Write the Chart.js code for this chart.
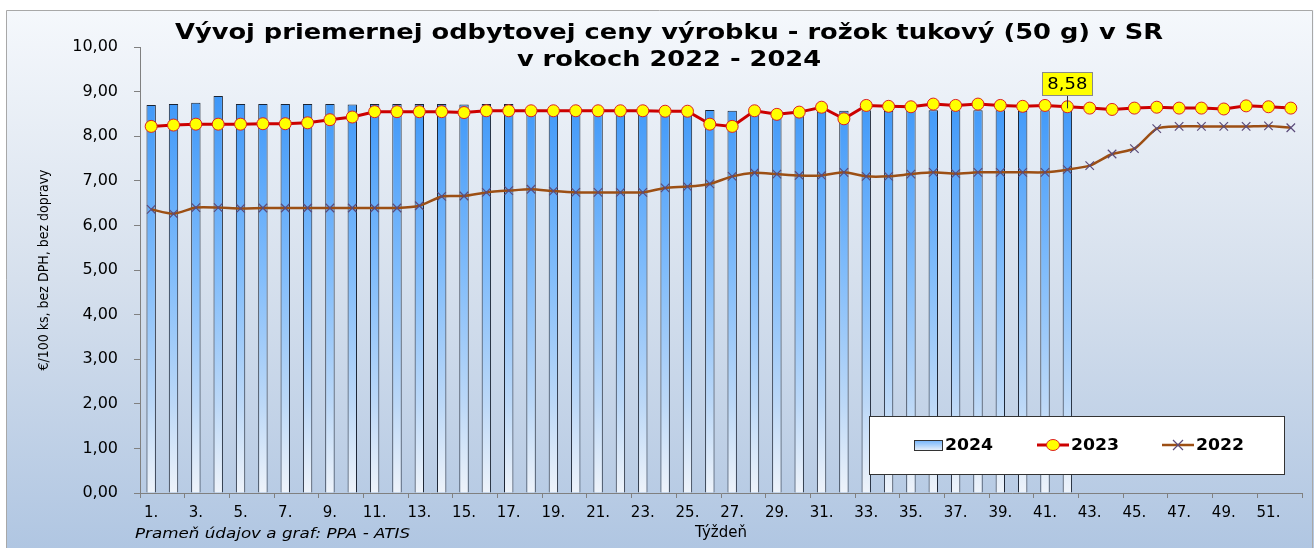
<!DOCTYPE html>
<html>
<head>
<meta charset="utf-8">
<script src="https://cdn.jsdelivr.net/npm/chart.js@4/dist/chart.umd.min.js"></script>
<style>
  html, body { margin: 0; padding: 0; background: #fff; }
  #wrap { width: 1314px; height: 548px; }
</style>
</head>
<body>
<div id="wrap"><canvas id="cenyChart" width="1314" height="548"></canvas></div>
<script>
// Tyzdne 1. - 52.
const weeks = [];
for (let i = 1; i <= 52; i++) weeks.push(i + '.');

// 2024 (do 42. tyzdna)
const data2024 = [8.70, 8.72, 8.75, 8.90, 8.72, 8.72, 8.72, 8.72, 8.72, 8.71,
  8.72, 8.72, 8.72, 8.72, 8.71, 8.72, 8.72, 8.60, 8.58, 8.58,
  8.58, 8.58, 8.58, 8.58, 8.58, 8.59, 8.57, 8.57, 8.55, 8.54,
  8.56, 8.57, 8.58, 8.57, 8.57, 8.58, 8.58, 8.58, 8.58, 8.57,
  8.58, 8.58];

const data2023 = [8.22, 8.25, 8.27, 8.27, 8.27, 8.28, 8.28, 8.30, 8.37, 8.43,
  8.55, 8.55, 8.55, 8.55, 8.53, 8.57, 8.57, 8.57, 8.57, 8.57,
  8.57, 8.57, 8.57, 8.56, 8.56, 8.27, 8.22, 8.57, 8.49, 8.54,
  8.65, 8.39, 8.69, 8.67, 8.66, 8.72, 8.69, 8.72, 8.69, 8.67,
  8.69, 8.66, 8.63, 8.60, 8.63, 8.65, 8.63, 8.63, 8.61, 8.68,
  8.66, 8.63];

const data2022 = [6.36, 6.26, 6.40, 6.40, 6.38, 6.39, 6.39, 6.39, 6.39, 6.39,
  6.39, 6.39, 6.44, 6.65, 6.66, 6.74, 6.78, 6.81, 6.77, 6.74,
  6.74, 6.74, 6.74, 6.84, 6.87, 6.93, 7.10, 7.18, 7.15, 7.12,
  7.12, 7.19, 7.10, 7.10, 7.15, 7.19, 7.16, 7.19, 7.19, 7.19,
  7.19, 7.25, 7.34, 7.60, 7.72, 8.17, 8.22, 8.22, 8.22, 8.22,
  8.23, 8.19];

const yTicks = [0, 1, 2, 3, 4, 5, 6, 7, 8, 9, 10];
const labelWeekIdx = 41; // popis 8,58

const fmt = v => v.toFixed(2).replace('.', ',');
const FONT = "'DejaVu Sans', Verdana, sans-serif";

function barGradient(ctx, area) {
  const g = ctx.createLinearGradient(0, area.top, 0, area.bottom);
  g.addColorStop(0, '#2b8df8');
  g.addColorStop(0.5, '#80bcfb');
  g.addColorStop(0.8, '#bcd8f7');
  g.addColorStop(1, '#eef3fa');
  return g;
}

// text roztiahnuty na danu sirku (ako v povodnom grafe)
function wideText(ctx, txt, x, y, w, align) {
  const m = ctx.measureText(txt).width;
  const sx = w / m;
  ctx.save();
  ctx.translate(x, y);
  ctx.scale(sx, 1);
  ctx.textAlign = align;
  ctx.fillText(txt, 0, 0);
  ctx.restore();
}

// pozadie + ramik
const bgPlugin = {
  id: 'bg',
  beforeDraw(chart) {
    const ctx = chart.ctx;
    ctx.save();
    ctx.fillStyle = '#ffffff';
    ctx.fillRect(0, 0, chart.width, chart.height);
    const g = ctx.createLinearGradient(0, 10, 0, chart.height);
    g.addColorStop(0, '#f5f8fc');
    g.addColorStop(0.5, '#d6e0ed');
    g.addColorStop(1, '#b0c6e2');
    ctx.fillStyle = g;
    ctx.fillRect(6, 10, chart.width - 6, chart.height - 10);
    ctx.strokeStyle = '#a8a8a8';
    ctx.lineWidth = 1;
    ctx.beginPath();
    ctx.moveTo(6.5, chart.height);
    ctx.lineTo(6.5, 10.5);
    ctx.lineTo(chart.width - 1.5, 10.5);
    ctx.lineTo(chart.width - 1.5, chart.height);
    ctx.stroke();
    ctx.restore();
  }
};

// nadpis, zdroj, legenda, popis hodnoty
const textPlugin = {
  id: 'texty',
  afterDatasetsDraw(chart) {
    const ctx = chart.ctx;
    const meta = chart.getDatasetMeta(0);
    const bar = meta.data[labelWeekIdx];
    if (!bar) return;
    const x = bar.x, y = bar.y;
    ctx.save();
    ctx.strokeStyle = '#333';
    ctx.lineWidth = 1;
    ctx.beginPath();
    ctx.moveTo(Math.round(x) + 0.5, y - 2);
    ctx.lineTo(Math.round(x) + 0.5, y - 15);
    ctx.stroke();
    const bw = 50, bh = 23;
    const bx = Math.round(x - bw / 2) + 0.5, by = Math.round(y - 15 - bh) + 0.5;
    ctx.fillStyle = '#ffff00';
    ctx.fillRect(bx, by, bw, bh);
    ctx.strokeStyle = '#8a8a8a';
    ctx.strokeRect(bx, by, bw, bh);
    ctx.fillStyle = '#000';
    ctx.font = '15px ' + FONT;
    ctx.textBaseline = 'middle';
    wideText(ctx, fmt(data2024[labelWeekIdx]), x, by + bh / 2 + 1, 40, 'center');
    ctx.restore();
  },
  afterDraw(chart) {
    const ctx = chart.ctx;
    ctx.save();
    // nadpis
    ctx.fillStyle = '#000';
    ctx.font = 'bold 22px ' + FONT;
    ctx.textBaseline = 'alphabetic';
    const t1 = 'Vývoj priemernej odbytovej ceny výrobku - rožok tukový (50 g) v SR';
    const t2 = 'v rokoch 2022 - 2024';
    const k = 988 / ctx.measureText(t1).width;
    wideText(ctx, t1, 669, 39, 988, 'center');
    wideText(ctx, t2, 669, 66, ctx.measureText(t2).width * k, 'center');
    // zdroj
    ctx.font = 'italic 14px ' + FONT;
    wideText(ctx, 'Prameň údajov a graf: PPA - ATIS', 135, 538, 275, 'left');

    // legenda
    const lx = 869.5, ly = 416.5, lw = 415, lh = 58;
    ctx.fillStyle = '#ffffff';
    ctx.fillRect(lx, ly, lw, lh);
    ctx.strokeStyle = '#333';
    ctx.lineWidth = 1;
    ctx.strokeRect(lx, ly, lw, lh);
    const cy = 445;
    // 2024
    const sg = ctx.createLinearGradient(0, cy - 5, 0, cy + 5);
    sg.addColorStop(0, '#6fb2fb');
    sg.addColorStop(1, '#e4eefa');
    ctx.fillStyle = sg;
    ctx.fillRect(914, cy - 5, 28, 10);
    ctx.strokeStyle = '#333';
    ctx.strokeRect(914.5, cy - 4.5, 28, 10);
    // 2023
    ctx.strokeStyle = '#cc0000';
    ctx.lineWidth = 3;
    ctx.beginPath(); ctx.moveTo(1037, cy); ctx.lineTo(1069, cy); ctx.stroke();
    ctx.fillStyle = '#ffff00';
    ctx.lineWidth = 1;
    ctx.strokeStyle = '#dd2222';
    ctx.beginPath(); ctx.ellipse(1053, cy, 6.5, 5.5, 0, 0, Math.PI * 2); ctx.fill(); ctx.stroke();
    // 2022
    ctx.strokeStyle = '#9c4f14';
    ctx.lineWidth = 2.5;
    ctx.beginPath(); ctx.moveTo(1162, cy); ctx.lineTo(1194, cy); ctx.stroke();
    ctx.strokeStyle = '#5b4b7a';
    ctx.lineWidth = 1.2;
    ctx.beginPath();
    ctx.moveTo(1173, cy - 5); ctx.lineTo(1183, cy + 5);
    ctx.moveTo(1173, cy + 5); ctx.lineTo(1183, cy - 5);
    ctx.stroke();
    ctx.fillStyle = '#000';
    ctx.font = 'bold 16px ' + FONT;
    ctx.textBaseline = 'middle';
    wideText(ctx, '2024', 945, cy + 1, 48, 'left');
    wideText(ctx, '2023', 1071, cy + 1, 48, 'left');
    wideText(ctx, '2022', 1196, cy + 1, 48, 'left');
    ctx.restore();
  }
};

const ctx = document.getElementById('cenyChart').getContext('2d');
new Chart(ctx, {
  type: 'bar',
  data: {
    labels: weeks,
    datasets: [
      {
        type: 'bar',
        label: '2024',
        data: data2024,
        order: 3,
        backgroundColor: (c) => {
          const a = c.chart.chartArea;
          if (!a) return '#5aa7fa';
          return barGradient(c.chart.ctx, a);
        },
        borderColor: '#1b2433',
        borderWidth: 1,
        barPercentage: 0.42,
        categoryPercentage: 1.0
      },
      {
        type: 'line',
        label: '2023',
        data: data2023,
        order: 1,
        borderColor: '#cc0000',
        borderWidth: 3,
        tension: 0,
        pointStyle: 'circle',
        pointRadius: 6,
        pointBackgroundColor: '#ffff00',
        pointBorderColor: '#dd2222',
        pointBorderWidth: 1
      },
      {
        type: 'line',
        label: '2022',
        data: data2022,
        order: 2,
        borderColor: '#9c4f14',
        borderWidth: 2.5,
        tension: 0.2,
        pointStyle: 'crossRot',
        pointRadius: 6,
        pointBorderColor: '#5b4b7a',
        pointBorderWidth: 1.2
      }
    ]
  },
  options: {
    responsive: false,
    animation: false,
    layout: { padding: { top: 47, right: 12, bottom: 0, left: 0 } },
    plugins: {
      legend: { display: false },
      title: { display: false },
      tooltip: { enabled: false }
    },
    scales: {
      x: {
        offset: true,
        afterFit: (s) => { s.height = 55; },
        grid: {
          offset: true,
          drawOnChartArea: false,
          drawTicks: true,
          tickLength: 5,
          color: (c) => (c.index === undefined || c.index % 2 === 0) ? '#808080' : 'rgba(0,0,0,0)'
        },
        border: { color: '#808080', width: 1 },
        ticks: {
          autoSkip: false,
          maxRotation: 0,
          padding: 6,
          color: '#000',
          font: { family: FONT, size: 15 },
          callback: function (v, i) { return i % 2 === 0 ? weeks[i] : ''; }
        },
        title: {
          display: true,
          text: 'Týždeň',
          color: '#000',
          font: { family: FONT, size: 15 },
          padding: { top: 0, bottom: 6 }
        }
      },
      y: {
        min: yTicks[0],
        max: yTicks[yTicks.length - 1],
        afterFit: (s) => { s.width = 140; },
        afterBuildTicks: (s) => { s.ticks = yTicks.map(v => ({ value: v })); },
        grid: {
          drawOnChartArea: false,
          drawTicks: true,
          tickLength: 6,
          color: '#808080'
        },
        border: { color: '#808080', width: 1 },
        ticks: {
          padding: 16,
          color: '#000',
          font: { family: FONT, size: 16 },
          callback: (v) => fmt(v)
        },
        title: {
          display: true,
          text: '€/100 ks, bez DPH, bez dopravy',
          color: '#000',
          font: { family: "'Liberation Sans Narrow', 'DejaVu Sans Condensed', sans-serif", size: 14 },
          padding: { top: 36, bottom: 0 }
        }
      }
    }
  },
  plugins: [bgPlugin, textPlugin]
});
</script>
</body>
</html>
